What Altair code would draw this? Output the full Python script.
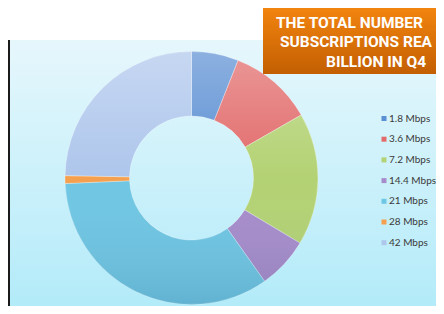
import altair as alt
import pandas as pd

# ---- data ----
speeds = ["1.8 Mbps", "3.6 Mbps", "7.2 Mbps", "14.4 Mbps", "21 Mbps", "28 Mbps", "42 Mbps"]
shares = [6.0, 10.7, 16.9, 6.6, 34.1, 1.0, 24.7]
colors = ["#5b8fd3", "#e26a6a", "#b3d273", "#a68ccb", "#6fc6e3", "#f5a04f", "#aec6ec"]
# the banner is cropped at the right edge in the reference; these are its visible parts
title_lines = ["THE TOTAL NUMBER", "SUBSCRIPTIONS REA", "BILLION IN Q4"]

df = pd.DataFrame({"speed": speeds, "share": shares, "order": list(range(len(speeds)))})

W, H = 428, 298
CX, CY = 183.5, 170
R_OUT, R_IN = 126.5, 62

one = alt.Data(values=[{}])

bg = alt.Chart(one).mark_rect(
    fill={"gradient": "linear", "x1": 0, "y1": 0, "x2": 0, "y2": 1,
          "stops": [{"offset": 0, "color": "#e6f7fc"}, {"offset": 1, "color": "#b3ebf9"}]}
).encode(x=alt.value(0), x2=alt.value(W), y=alt.value(32), y2=alt.value(H))

edge = alt.Chart(one).mark_rect(color="#1b1b1b").encode(
    x=alt.value(0), x2=alt.value(2), y=alt.value(32), y2=alt.value(H))

donut = alt.Chart(df).mark_arc(outerRadius=R_OUT, innerRadius=R_IN, stroke="#ffffff",
                               strokeWidth=0.3).encode(
    theta=alt.Theta("share:Q", stack=True),
    order=alt.Order("order:Q"),
    color=alt.Color("speed:N", sort=speeds,
                    scale=alt.Scale(domain=speeds, range=colors),
                    legend=alt.Legend(orient="none", legendX=371, legendY=105.5, title=None,
                                      padding=0, offset=0,
                                      symbolType="square", symbolSize=25, symbolStrokeWidth=0,
                                      labelFont="Lato", labelFontSize=10,
                                      labelColor="#3a3a3a", rowPadding=10.7, labelOffset=0,
                                      symbolOffset=0)),
    x=alt.value(CX), y=alt.value(CY),
)

shade = alt.Chart(one).mark_arc(
    outerRadius=R_OUT, innerRadius=R_IN, theta=0, theta2=6.2832,
    fill={"gradient": "linear", "x1": 0, "y1": 0, "x2": 0, "y2": 1,
          "stops": [{"offset": 0, "color": "rgba(255,255,255,0.30)"},
                    {"offset": 0.5, "color": "rgba(255,255,255,0.0)"},
                    {"offset": 1, "color": "rgba(0,40,80,0.12)"}]}
).encode(x=alt.value(CX), y=alt.value(CY))

box = alt.Chart(one).mark_rect(
    fill={"gradient": "linear", "x1": 0, "y1": 0, "x2": 0, "y2": 1,
          "stops": [{"offset": 0, "color": "#f2840f"}, {"offset": 1, "color": "#c35f02"}]},
    clip=True
).encode(x=alt.value(255), x2=alt.value(W + 5), y=alt.value(0), y2=alt.value(66))

text_layers = []
for line, tx, ty in zip(title_lines, [268, 272, 318], [20, 39, 59]):
    text_layers.append(
        alt.Chart(one).mark_text(text=line, align="left", baseline="alphabetic",
                                 font="Roboto", fontSize=15.5, fontWeight="bold",
                                 color="#ffffff")
        .encode(x=alt.value(tx), y=alt.value(ty))
    )

chart = alt.layer(bg, edge, donut, shade, box, *text_layers).properties(
    width=W, height=H, autosize=alt.AutoSizeParams(type="none"), padding=0,
    background="#ffffff"
).configure_view(stroke=None)

chart.save("out.html", embed_options={"renderer": "svg", "actions": False})
